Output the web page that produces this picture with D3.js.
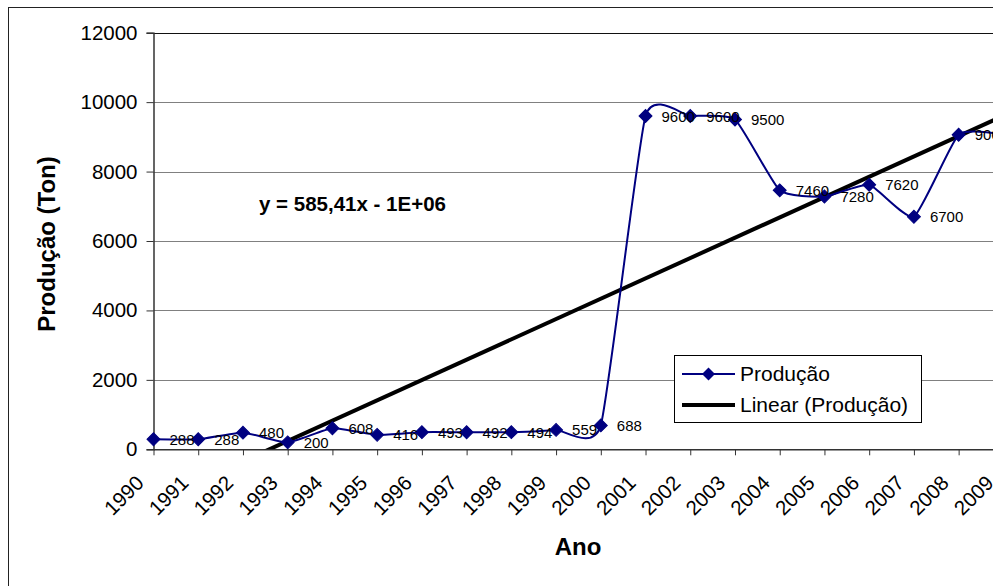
<!DOCTYPE html>
<html>
<head>
<meta charset="utf-8">
<script src="https://cdn.jsdelivr.net/npm/d3@7"></script>
<style>
  html, body { margin: 0; padding: 0; background: #fff; }
  svg { display: block; font-family: "Liberation Sans", Arial, sans-serif; }
</style>
</head>
<body>
<svg id="chart" width="993" height="586"></svg>
<script>
// ---- data ----
const years = [1990,1991,1992,1993,1994,1995,1996,1997,1998,1999,2000,2001,2002,2003,2004,2005,2006,2007,2008,2009];
const producao = [288,288,480,200,608,416,493,492,494,559,688,9600,9600,9500,7460,7280,7620,6700,9060,9070];
const yTicks = [0,2000,4000,6000,8000,10000,12000];
const seriesName = "Produção";
const trendName = "Linear (Produção)";
const equationText = "y = 585,41x - 1E+06";
const xTitle = "Ano";
const yTitle = "Produção (Ton)";

// ---- layout ----
const svg = d3.select("#chart");
const plot = { left: 153.5, top: 32.7, bottom: 449.3 };
const step = 44.73;
const x = d3.scaleLinear().domain([years[0], years[years.length-1]])
  .range([plot.left, plot.left + step * (years.length - 1)]);
const y = d3.scaleLinear().domain([0, 12000]).range([plot.bottom, plot.top]);
const plotRight = 1100;

// chart border
svg.append("rect").attr("x", 8.5).attr("y", 7.5).attr("width", 1200).attr("height", 700)
  .attr("fill", "#fff").attr("stroke", "#222").attr("stroke-width", 1);

// clip
svg.append("clipPath").attr("id", "clip").append("rect")
  .attr("x", plot.left).attr("y", plot.top - 20).attr("width", plotRight - plot.left)
  .attr("height", plot.bottom - plot.top + 20);
svg.append("clipPath").attr("id", "clip2").append("rect")
  .attr("x", plot.left).attr("y", plot.top).attr("width", plotRight - plot.left)
  .attr("height", plot.bottom - plot.top);

// gridlines
svg.append("g").selectAll("line").data(yTicks.filter(t => t > 0)).join("line")
  .attr("x1", plot.left).attr("x2", plotRight)
  .attr("y1", d => Math.round(y(d)) + 0.5).attr("y2", d => Math.round(y(d)) + 0.5)
  .attr("stroke", d => d === 12000 ? "#111" : "#808080").attr("stroke-width", 1);

// y axis
const yAxis = d3.axisLeft(y).tickValues(yTicks).tickSize(7).tickPadding(9).tickFormat(d3.format("d"));
const gy = svg.append("g").attr("transform", `translate(${plot.left},0)`).call(yAxis);
gy.select(".domain").attr("stroke", "#333").attr("stroke-width", 1.5);
gy.selectAll(".tick line").attr("stroke", "#333").attr("stroke-width", 1);
gy.selectAll(".tick text").attr("font-size", 20.5).attr("fill", "#000")
  .attr("font-family", "Liberation Sans, Arial, sans-serif");

// x axis
const xAxis = d3.axisBottom(x).tickValues(years).tickSize(6).tickSizeOuter(0).tickFormat(d3.format("d"));
const gx = svg.append("g").attr("transform", `translate(0,${plot.bottom})`).call(xAxis);
gx.select(".domain").attr("stroke", "#333").attr("stroke-width", 1.5);
gx.selectAll(".tick line").attr("stroke", "#333").attr("stroke-width", 1);
gx.selectAll(".tick text").attr("font-size", 20.5).attr("fill", "#000")
  .attr("font-family", "Liberation Sans, Arial, sans-serif")
  .attr("text-anchor", "end").attr("dy", null).attr("y", null)
  .attr("transform", "translate(-9,35) rotate(-45)");

// trend line (least squares on data)
const n = years.length;
const mx = d3.mean(years), my = d3.mean(producao);
let sxy = 0, sxx = 0;
for (let i = 0; i < n; i++) { sxy += (years[i]-mx)*(producao[i]-my); sxx += (years[i]-mx)**2; }
const slope = sxy / sxx, intercept = my - slope * mx;
const xEnd = x.invert(plotRight);
svg.append("line").attr("clip-path", "url(#clip2)")
  .attr("x1", x(years[0])).attr("y1", y(slope*years[0]+intercept))
  .attr("x2", x(xEnd)).attr("y2", y(slope*xEnd+intercept))
  .attr("stroke", "#000").attr("stroke-width", 4);

// series line (smoothed)
const pts = years.map((yr, i) => ({ yr, v: producao[i] }));
const line = d3.line().x(d => x(d.yr)).y(d => y(d.v)).curve(d3.curveCardinal.tension(0.5));
svg.append("path").datum(pts).attr("clip-path", "url(#clip)")
  .attr("d", line).attr("fill", "none").attr("stroke", "#000080").attr("stroke-width", 2);

// markers
const diamond = d3.symbol().type(d3.symbolSquare).size(84);
svg.append("g").selectAll("path").data(pts).join("path")
  .attr("d", diamond)
  .attr("transform", d => `translate(${x(d.yr)},${y(d.v)}) rotate(45)`)
  .attr("fill", "#000080").attr("stroke", "#000080").attr("stroke-width", 1);

// data labels
svg.append("g").selectAll("text").data(pts).join("text")
  .attr("x", d => x(d.yr) + 16).attr("y", d => y(d.v) + 5.5)
  .attr("font-size", 15).attr("fill", "#000").text(d => d.v);

// equation
svg.append("text").attr("x", 259).attr("y", 211).attr("font-size", 20.5)
  .attr("font-weight", "bold").attr("fill", "#000").text(equationText);

// legend
const lg = svg.append("g");
lg.append("rect").attr("x", 674.5).attr("y", 355.5).attr("width", 247).attr("height", 67)
  .attr("fill", "#fff").attr("stroke", "#000").attr("stroke-width", 1);
lg.append("line").attr("x1", 682).attr("x2", 735).attr("y1", 374).attr("y2", 374)
  .attr("stroke", "#000080").attr("stroke-width", 2);
lg.append("path").attr("d", diamond).attr("transform", "translate(708.5,374) rotate(45)")
  .attr("fill", "#000080");
lg.append("text").attr("x", 740).attr("y", 381).attr("font-size", 21).text(seriesName);
lg.append("line").attr("x1", 682).attr("x2", 735).attr("y1", 405).attr("y2", 405)
  .attr("stroke", "#000").attr("stroke-width", 4);
lg.append("text").attr("x", 740).attr("y", 412).attr("font-size", 21).text(trendName);

// axis titles
svg.append("text").attr("x", 578).attr("y", 555).attr("text-anchor", "middle")
  .attr("font-size", 24).attr("font-weight", "bold").text(xTitle);
svg.append("text").attr("transform", "translate(55,244) rotate(-90)").attr("text-anchor", "middle")
  .attr("font-size", 24).attr("font-weight", "bold").text(yTitle);
</script>
</body>
</html>
